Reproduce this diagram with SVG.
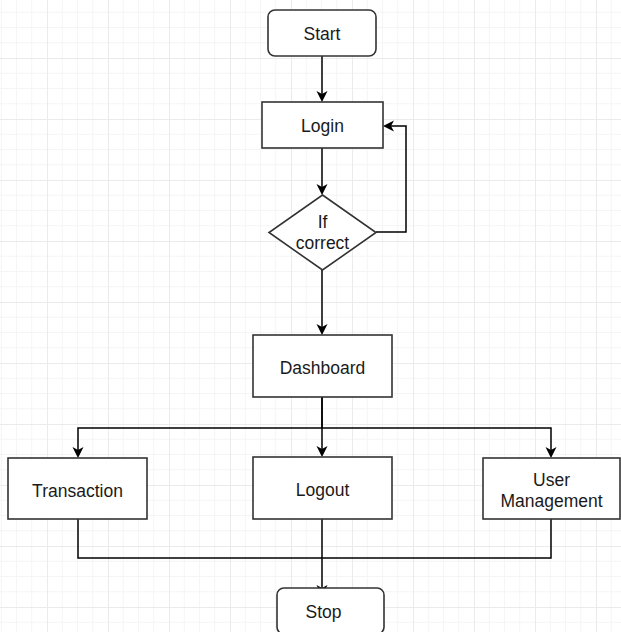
<svg xmlns="http://www.w3.org/2000/svg" width="621" height="632" viewBox="0 0 621 632">
<defs>
<pattern id="grid" patternUnits="userSpaceOnUse" x="47" y="58" width="61" height="61">
<path d="M15.25 0V61M30.5 0V61M45.75 0V61M0 15.25H61M0 30.5H61M0 45.75H61" stroke="#f5f5f5" stroke-width="1" fill="none"/>
<path d="M0.5 0V61M0 0.5H61" stroke="#ebebeb" stroke-width="1" fill="none"/>
</pattern>
<marker id="arrow" markerUnits="userSpaceOnUse" markerWidth="12" markerHeight="12" refX="8" refY="5.5" orient="auto" viewBox="0 0 12 11">
<path d="M0,0 L11,5.5 L0,11 L3,5.5 z" fill="#000"/>
</marker>
</defs>
<style>
.node{fill:#fff;stroke:#333;stroke-width:1.6}
.conn{fill:none;stroke:#000;stroke-width:1.5}
.lbl{font-family:"Liberation Sans",Arial,sans-serif;font-size:17.5px;fill:#1a1a1a;text-anchor:middle}
</style>
<rect width="621" height="632" fill="#fff"/>
<rect width="621" height="632" fill="url(#grid)"/>
<g id="connectors">
<path class="conn" d="M322 56V99" marker-end="url(#arrow)"/>
<path class="conn" d="M322 148V192" marker-end="url(#arrow)"/>
<path class="conn" d="M376 232H406V126H386" marker-end="url(#arrow)"/>
<path class="conn" d="M322 270V332" marker-end="url(#arrow)"/>
<path class="conn" d="M322 397V428H78V455" marker-end="url(#arrow)"/>
<path class="conn" d="M322 397V454" marker-end="url(#arrow)"/>
<path class="conn" d="M322 428H551V455" marker-end="url(#arrow)"/>
<path class="conn" d="M78 519V558H322" />
<path class="conn" d="M551 519V558H322" />
<path class="conn" d="M322 519V593" marker-end="url(#arrow)"/>
</g>
<g id="start">
<rect class="node" x="268" y="10" width="108" height="46" rx="7"/>
<text class="lbl" x="322" y="40">Start</text>
</g>
<g id="login">
<rect class="node" x="262" y="102" width="121" height="46"/>
<text class="lbl" x="322.5" y="132">Login</text>
</g>
<g id="decision">
<polygon class="node" points="322.5,195 376,232.5 322.5,270 269,232.5"/>
<text class="lbl" x="322.5" y="228">If</text>
<text class="lbl" x="322.5" y="249">correct</text>
</g>
<g id="dashboard">
<rect class="node" x="253" y="335" width="139" height="62"/>
<text class="lbl" x="322.5" y="374">Dashboard</text>
</g>
<g id="transaction">
<rect class="node" x="8" y="458" width="139" height="61"/>
<text class="lbl" x="77.5" y="497">Transaction</text>
</g>
<g id="logout">
<rect class="node" x="253" y="457" width="139" height="62"/>
<text class="lbl" x="322.5" y="496">Logout</text>
</g>
<g id="usermanagement">
<rect class="node" x="483" y="458" width="137" height="61"/>
<text class="lbl" x="551.5" y="486">User</text>
<text class="lbl" x="551.5" y="507">Management</text>
</g>
<g id="stop">
<rect class="node" x="277" y="588" width="107" height="46" rx="7"/>
<text class="lbl" x="323.5" y="618">Stop</text>
</g>
</svg>
